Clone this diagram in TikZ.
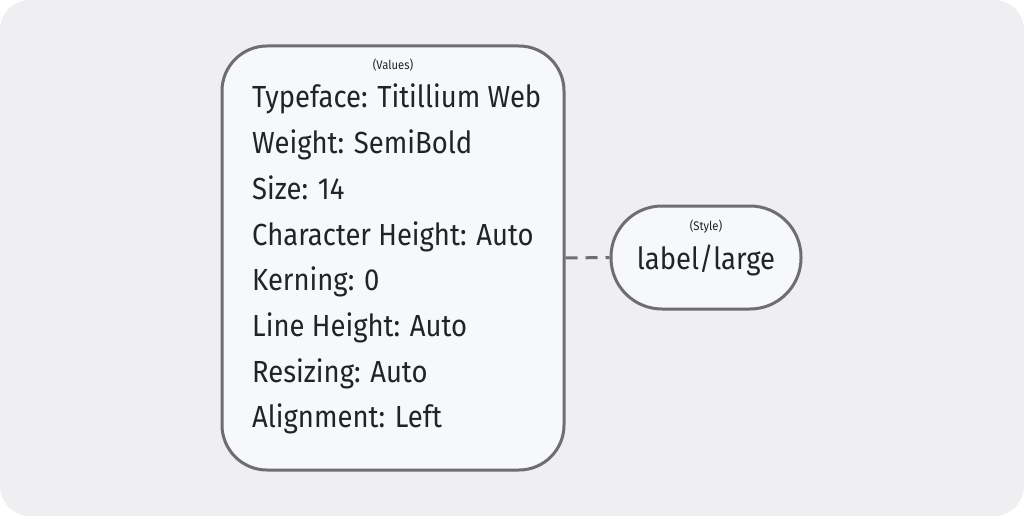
\documentclass[tikz,border=0pt]{standalone}
\usepackage{fontspec}
\setmainfont[FakeStretch=0.9]{Fira Sans}
\usepackage{tikz}

\definecolor{pagebg}{HTML}{EFEFF1}
\definecolor{boxfill}{HTML}{F7F8FA}
\definecolor{boxline}{HTML}{6E6E70}
\definecolor{ink}{HTML}{222326}

\tikzset{
  card/.style={draw=boxline, fill=boxfill, line width=3pt},
  entry/.style={anchor=base west, inner sep=0pt, text=ink, font=\fontsize{30.5}{30.5}\selectfont},
  tag/.style={anchor=base, inner sep=0pt, text=ink, font=\fontsize{12.5}{12.5}\selectfont},
}

\begin{document}
\begin{tikzpicture}[x=1pt, y=-1pt]
\useasboundingbox (0,0) rectangle (1024,516);
\fill [white] (0,0) rectangle (1024,516);
\fill [pagebg, rounded corners=30pt] (0,0) rectangle (1024,516);
\node [card, rounded corners=45pt, minimum width=342pt, minimum height=424pt] (values) at (393,258) {};
\node [card, rounded corners=51pt, minimum width=190pt, minimum height=103pt] (style) at (706,257.5) {};
\draw [boxline, line width=3pt, dash pattern=on 12pt off 8pt] (values.east) -- (style.west);
\node [tag] (valuestag) at (393,70) {(Values)};
\node [entry] (typeface) at (252,108) {Typeface: Titillium Web};
\node [entry] (weight) at (252,153.7) {Weight: SemiBold};
\node [entry] (size) at (252,199.4) {Size: 14};
\node [entry] (charheight) at (252,245.1) {Character Height: Auto};
\node [entry] (kerning) at (252,290.8) {Kerning: 0};
\node [entry] (lineheight) at (252,336.5) {Line Height: Auto};
\node [entry] (resizing) at (252,382.2) {Resizing: Auto};
\node [entry] (alignment) at (252,427.9) {Alignment: Left};
\node [tag] (styletag) at (706,230) {(Style)};
\node [entry, anchor=base] (stylename) at (706,269) {label/large};
\end{tikzpicture}
\end{document}
